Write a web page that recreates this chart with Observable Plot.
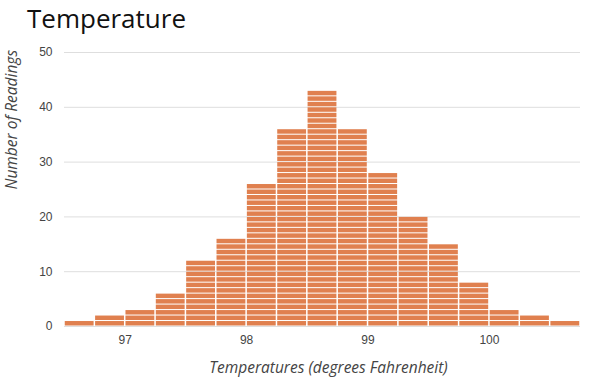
<!DOCTYPE html>
<html>
<head>
<meta charset="utf-8">
<script src="https://cdn.jsdelivr.net/npm/d3@7"></script>
<script src="https://cdn.jsdelivr.net/npm/@observablehq/plot@0.6"></script>
<style>
  html, body { margin: 0; padding: 0; background: #fff; }
  #wrap { width: 600px; height: 383px; position: relative; overflow: hidden; }
  #title { height: 40px; font-family: "Open Sans", sans-serif; font-size: 26px; color: #111; padding-left: 27px; line-height: 37px; box-sizing: border-box; }
  svg { display: block; }
</style>
</head>
<body>
<div id="wrap">
  <div id="title">Temperature</div>
  <div id="chart"></div>
</div>
<script>
const binStart = 96.5;
const binWidth = 0.25;
const counts = [1, 2, 3, 6, 12, 16, 26, 36, 43, 36, 28, 20, 15, 8, 3, 2, 1];
const xTicks = [97, 98, 99, 100];
const yTicks = [0, 10, 20, 30, 40, 50];
const xLabel = "Temperatures (degrees Fahrenheit)";
const yLabel = "Number of Readings";

const blocks = [];
counts.forEach((c, i) => {
  const x1 = binStart + i * binWidth;
  const x2 = x1 + binWidth;
  for (let k = 0; k < c; k++) blocks.push({x1, x2, y1: k, y2: k + 1});
});

const chart = Plot.plot({
  width: 600,
  height: 343,
  marginTop: 12,
  marginBottom: 57,
  marginLeft: 64,
  marginRight: 20,
  style: {fontFamily: "'Liberation Sans', Arial, sans-serif", fontSize: "12px", color: "#444", background: "#fff"},
  x: {domain: [binStart, binStart + counts.length * binWidth], ticks: xTicks},
  y: {domain: [0, 50], ticks: yTicks},
  marks: [
    Plot.gridY(yTicks, {stroke: "#dedede", strokeOpacity: 1, strokeWidth: 1}),
    Plot.rect(blocks, {x1: "x1", x2: "x2", y1: "y1", y2: "y2", fill: "#e0804f", insetLeft: 0.75, insetRight: 0.75, insetTop: 0.5, insetBottom: 0.5}),
    Plot.axisX(xTicks, {tickSize: 0, tickPadding: 9, label: null, tickFormat: d => String(d), fill: "#444"}),
    Plot.axisY(yTicks, {tickSize: 0, tickPadding: 12, label: null, fill: "#444"}),
    Plot.text([yLabel], {frameAnchor: "left", dx: -52, rotate: -90, text: d => d, fontFamily: "'Open Sans', sans-serif", fontStyle: "italic", fontSize: 15.5, fill: "#444"}),
    Plot.text([xLabel], {frameAnchor: "bottom", dx: 6, dy: 46, text: d => d, fontFamily: "'Open Sans', sans-serif", fontStyle: "italic", fontSize: 15.5, fill: "#444"})
  ]
});
document.getElementById("chart").appendChild(chart);
</script>
</body>
</html>
